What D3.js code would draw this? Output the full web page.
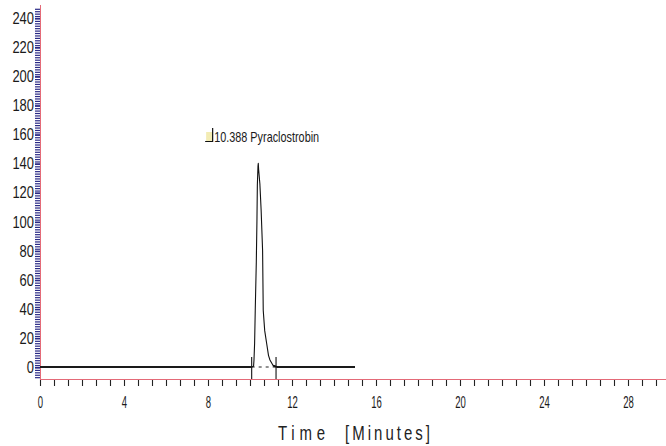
<!DOCTYPE html>
<html>
<head>
<meta charset="utf-8">
<script src="https://cdn.jsdelivr.net/npm/d3@7"></script>
<style>
  html, body { margin: 0; padding: 0; background: #fff; }
  svg { display: block; }
</style>
</head>
<body>
<script>
// ---- data ----
const timeMin = [0, 10.0, 10.08, 10.17, 10.19, 10.22, 10.25, 10.30, 10.33, 10.35, 10.38, 10.395, 10.41, 10.47, 10.53, 10.60, 10.63, 10.70, 10.79, 10.88, 10.95, 11.10, 11.30, 15];
const signal  = [0, 0, 0, 0.5, 4.8, 16.5, 39, 72, 100, 125, 138, 140, 136, 126, 108, 80, 39, 25, 16.5, 8, 4.8, 1, 0, 0];
const yTickLabels = [0, 20, 40, 60, 80, 100, 120, 140, 160, 180, 200, 220, 240];
const xTickLabels = [0, 4, 8, 12, 16, 20, 24, 28];
const peakTime = 10.388;
const peakName = "Pyraclostrobin";
const integStart = 10.08, integEnd = 11.24;
const xTitle = ["Time", "[Minutes]"];

// ---- layout ----
const W = 666, H = 446;
const svg = d3.select("body").append("svg").attr("width", W).attr("height", H);

const x = d3.scaleLinear().domain([0, 30]).range([40, 670]);
const y = d3.scaleLinear().domain([0, 240]).range([367, 18]);
const axisY = 379;
const font = "'Liberation Sans', Arial, sans-serif";

// minor y ticks (navy)
const yMinor = d3.range(-7, 247, 20 / 12);
const gyMinor = svg.append("g").attr("transform", "translate(40,0)")
  .call(d3.axisLeft(y).tickValues(yMinor).tickSize(5).tickFormat(""));
gyMinor.select(".domain").remove();
gyMinor.selectAll("line").attr("stroke", "#2a2a86").attr("stroke-width", 1.2);

// major y ticks + labels
const gy = svg.append("g").attr("transform", "translate(40,0)")
  .call(d3.axisLeft(y).tickValues(yTickLabels).tickSize(5).tickPadding(1));
gy.select(".domain").remove();
gy.selectAll("line").attr("stroke", "#2a2a86").attr("stroke-width", 1.2);
gy.selectAll("text")
  .attr("font-family", font).attr("font-size", 16).attr("fill", "#1a1a1a")
  .attr("dy", "0.34em")
  .attr("textLength", d => String(d).length * 7.2)
  .attr("lengthAdjust", "spacingAndGlyphs");

// y axis line (pink-red)
svg.append("line").attr("x1", 40.5).attr("x2", 40.5).attr("y1", 5).attr("y2", 386)
  .attr("stroke", "#e46a78").attr("stroke-width", 1);

// x ticks
const xMinor = d3.range(0, 29.9, 2 / 3);
const gx = svg.append("g").attr("transform", `translate(0,${axisY})`)
  .call(d3.axisBottom(x).tickValues(xMinor).tickSize(7).tickFormat(""));
gx.select(".domain").remove();
gx.selectAll("line").attr("stroke", "#222").attr("stroke-width", 1.1);

const gxl = svg.append("g").attr("transform", `translate(0,${axisY})`)
  .call(d3.axisBottom(x).tickValues(xTickLabels).tickSize(0));
gxl.select(".domain").remove();
gxl.selectAll("text")
  .attr("font-family", font).attr("font-size", 17).attr("fill", "#1a1a1a")
  .attr("y", 28.5).attr("dy", 0)
  .attr("textLength", d => String(d).length * 5.3)
  .attr("lengthAdjust", "spacingAndGlyphs");

// x axis line
svg.append("line").attr("x1", 40).attr("x2", W).attr("y1", axisY + 0.5).attr("y2", axisY + 0.5)
  .attr("stroke", "#e46a78").attr("stroke-width", 1.2);

// integration baseline (dotted)
svg.append("line")
  .attr("x1", x(integStart)).attr("x2", x(integEnd))
  .attr("y1", y(0)).attr("y2", y(0))
  .attr("stroke", "#222").attr("stroke-width", 1.2).attr("stroke-dasharray", "3,4");

// integration markers
[integStart, integEnd].forEach(t => {
  svg.append("line").attr("x1", x(t)).attr("x2", x(t))
    .attr("y1", y(0) - 10).attr("y2", axisY)
    .attr("stroke", "#111").attr("stroke-width", 1.1);
});

// trace: baseline parts thicker, peak thin
const pts = timeMin.map((t, i) => [t, signal[i]]);
const line = d3.line().x(d => x(d[0])).y(d => y(d[1]));
svg.append("path").datum(pts.filter(d => d[0] <= integStart))
  .attr("d", line).attr("fill", "none").attr("stroke", "#1a1a1a").attr("stroke-width", 1.8);
svg.append("path").datum(pts.filter(d => d[0] >= 11.10))
  .attr("d", line).attr("fill", "none").attr("stroke", "#1a1a1a").attr("stroke-width", 1.8);
svg.append("path").datum(pts.filter(d => d[0] >= integStart && d[0] <= 11.30))
  .attr("d", line).attr("fill", "none").attr("stroke", "#111").attr("stroke-width", 1.1)
  .attr("stroke-linejoin", "round");

// peak label
const lx = x(peakTime) - 52, ly = 142;
svg.append("rect").attr("x", lx).attr("y", ly - 10).attr("width", 6).attr("height", 9)
  .attr("fill", "#f3ecb4");
svg.append("path").attr("d", `M${lx - 1},${ly - 0.5} H${lx + 6.5} V${ly - 14}`)
  .attr("fill", "none").attr("stroke", "#111").attr("stroke-width", 1.2);
svg.append("text").attr("x", lx + 8).attr("y", ly)
  .attr("font-family", font).attr("font-size", 15).attr("fill", "#1a1a1a")
  .attr("textLength", 105).attr("lengthAdjust", "spacingAndGlyphs")
  .text(peakTime.toFixed(3) + " " + peakName);

// x title
const tsc = 0.75;
svg.append("text").attr("transform", `translate(278,440) scale(${tsc},1)`)
  .attr("font-family", font).attr("font-size", 20).attr("fill", "#222")
  .attr("textLength", 47 / tsc).attr("lengthAdjust", "spacing")
  .text(xTitle[0]);
svg.append("text").attr("transform", `translate(345,440) scale(${tsc},1)`)
  .attr("font-family", font).attr("font-size", 20).attr("fill", "#222")
  .attr("textLength", 85 / tsc).attr("lengthAdjust", "spacing")
  .text(xTitle[1]);
</script>
</body>
</html>
